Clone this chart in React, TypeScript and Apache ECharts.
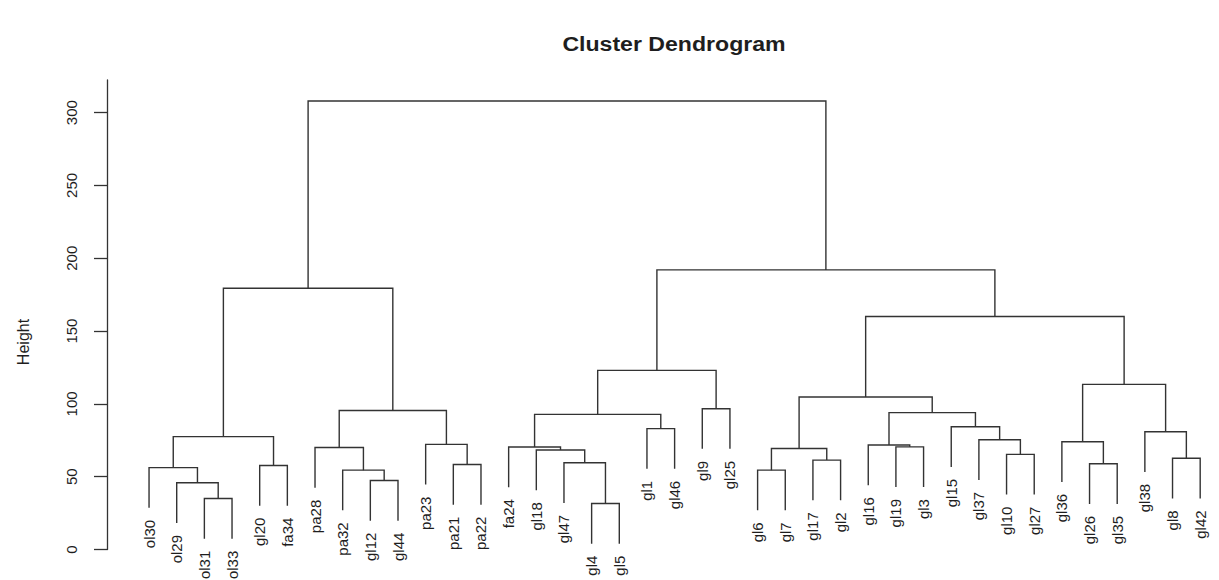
import { useEffect, useRef } from "react";
import * as echarts from "echarts";

// Leaves in plotting order (left to right)
const leafLabels = [
  "ol30", "ol29", "ol31", "ol33", "gl20", "fa34",
  "pa28", "pa32", "gl12", "gl44", "pa23", "pa21", "pa22",
  "fa24", "gl18", "gl47", "gl4", "gl5", "gl1", "gl46", "gl9", "gl25",
  "gl6", "gl7", "gl17", "gl2", "gl16", "gl19", "gl3", "gl15", "gl37", "gl10", "gl27",
  "gl36", "gl26", "gl35", "gl38", "gl8", "gl42",
];

// Agglomeration steps: [left, right, height]; a string is a leaf,
// a number refers to an earlier row of this list.
const merges: [string | number, string | number, number][] = [
  ["gl4", "gl5", 31.6],     // 0
  ["ol31", "ol33", 35.0],   // 1
  ["ol29", 1, 45.8],        // 2
  ["gl12", "gl44", 47.4],   // 3
  ["pa32", 3, 54.5],        // 4
  ["gl6", "gl7", 54.5],     // 5
  ["ol30", 2, 56.2],        // 6
  ["gl20", "fa34", 57.7],   // 7
  ["pa21", "pa22", 58.4],   // 8
  ["gl26", "gl35", 58.9],   // 9
  ["gl47", 0, 59.6],        // 10
  ["gl17", "gl2", 61.4],    // 11
  ["gl8", "gl42", 62.7],    // 12
  ["gl10", "gl27", 65.3],   // 13
  ["gl18", 10, 68.3],       // 14
  [5, 11, 69.4],            // 15
  ["pa28", 4, 70.0],        // 16
  ["fa24", 14, 70.4],       // 17
  ["gl19", "gl3", 70.5],    // 18
  ["gl16", 18, 71.8],       // 19
  ["pa23", 8, 72.2],        // 20
  ["gl36", 9, 74.0],        // 21
  ["gl37", 13, 75.4],       // 22
  [6, 7, 77.5],             // 23
  ["gl38", 12, 80.9],       // 24
  ["gl1", "gl46", 83.0],    // 25
  ["gl15", 22, 84.3],       // 26
  [17, 25, 92.8],           // 27
  [19, 26, 94.0],           // 28
  [16, 20, 95.5],           // 29
  ["gl9", "gl25", 96.7],    // 30
  [15, 28, 104.7],          // 31
  [21, 24, 113.4],          // 32
  [27, 30, 123.0],          // 33
  [31, 32, 160.0],          // 34
  [33, 34, 192.0],          // 35
  [23, 29, 179.4],          // 36
  [36, 35, 308.0],          // 37
];

const yTicks = [0, 50, 100, 150, 200, 250, 300];

// Leaves hang this far below the height at which they join
const HANG = 27.6;

const LINE = "#333333";
const TEXT = "#1e1e1e";
const FONT = '"Liberation Sans", Arial, sans-serif';

type Seg = [number, number, number, number, number];

function buildTree() {
  const leafIndex = new Map<string, number>();
  leafLabels.forEach((l, i) => leafIndex.set(l, i));
  const nodeX: number[] = [];
  const segs: Seg[] = [];
  const leaves: { x: number; end: number; label: string }[] = [];
  merges.forEach(([a, b, h], k) => {
    const child = (c: string | number) => {
      if (typeof c === "string") {
        const x = leafIndex.get(c) as number;
        leaves.push({ x, end: h - HANG, label: c });
        return { x, top: h - HANG };
      }
      return { x: nodeX[c], top: merges[c][2] };
    };
    const ca = child(a);
    const cb = child(b);
    nodeX[k] = (ca.x + cb.x) / 2;
    segs.push([ca.x, ca.top, cb.x, cb.top, h]);
  });
  leaves.sort((p, q) => p.x - q.x);
  return { segs, leaves };
}

export default function App() {
  const ref = useRef<HTMLDivElement>(null);

  useEffect(() => {
    if (!ref.current) return;
    const chart = echarts.init(ref.current, undefined, { renderer: "svg" });
    const { segs, leaves } = buildTree();
    const n = leafLabels.length;
    const pad = 0.04 * (n - 1);

    chart.setOption({
      animation: false,
      backgroundColor: "#ffffff",
      grid: {
        left: 107,
        top: 80,
        width: 1112,
        height: 469.5,
        outerBoundsMode: "none",
        containLabel: false,
      },
      xAxis: {
        type: "value",
        min: -pad,
        max: n - 1 + 0.68,
        show: false,
      },
      yAxis: {
        type: "value",
        min: 0,
        max: 322.4,
        splitLine: { show: false },
        axisLine: { show: true, onZero: false, lineStyle: { color: LINE, width: 1.3 } },
        axisTick: {
          show: true,
          length: 13,
          customValues: yTicks,
          lineStyle: { color: LINE, width: 1.3 },
        },
        axisLabel: {
          customValues: yTicks,
          rotate: 90,
          margin: 28,
          fontSize: 15,
          color: TEXT,
          fontFamily: FONT,
        },
      },
      graphic: [
        {
          type: "text",
          x: 674,
          y: 44,
          scaleX: 1.1,
          style: {
            text: "Cluster Dendrogram",
            font: `bold 21px ${FONT}`,
            fill: TEXT,
            textAlign: "center",
            textVerticalAlign: "middle",
            align: "center",
            verticalAlign: "middle",
          },
        },
        {
          type: "text",
          x: 23,
          y: 342,
          rotation: Math.PI / 2,
          style: {
            text: "Height",
            font: `16px ${FONT}`,
            fill: TEXT,
            textAlign: "center",
            textVerticalAlign: "middle",
            align: "center",
            verticalAlign: "middle",
          },
        },
      ],
      series: [
        {
          type: "custom",
          name: "branches",
          data: segs,
          encode: { x: [0, 2], y: [1, 3, 4] },
          renderItem: (_p: any, api: any) => {
            const xa = api.value(0), ya = api.value(1);
            const xb = api.value(2), yb = api.value(3);
            const h = api.value(4);
            return {
              type: "polyline",
              shape: {
                points: [
                  api.coord([xa, ya]),
                  api.coord([xa, h]),
                  api.coord([xb, h]),
                  api.coord([xb, yb]),
                ],
              },
              style: { stroke: LINE, lineWidth: 1.4, fill: "none" },
            };
          },
        },
        {
          type: "custom",
          name: "leaves",
          data: leaves.map((l) => [l.x, l.end]),
          encode: { x: 0, y: 1 },
          renderItem: (p: any, api: any) => {
            const pt = api.coord([api.value(0), api.value(1)]);
            return {
              type: "text",
              x: pt[0],
              y: pt[1] + 12,
              rotation: Math.PI / 2,
              style: {
                text: leaves[p.dataIndex].label,
                font: `15px ${FONT}`,
                fill: TEXT,
                textAlign: "right",
                textVerticalAlign: "middle",
                align: "right",
                verticalAlign: "middle",
              },
            };
          },
        },
      ],
    });

    return () => chart.dispose();
  }, []);

  return (
    <div
      ref={ref}
      style={{
        position: "fixed",
        left: 0,
        top: 0,
        width: 1219,
        height: 580,
        background: "#ffffff",
      }}
    />
  );
}
